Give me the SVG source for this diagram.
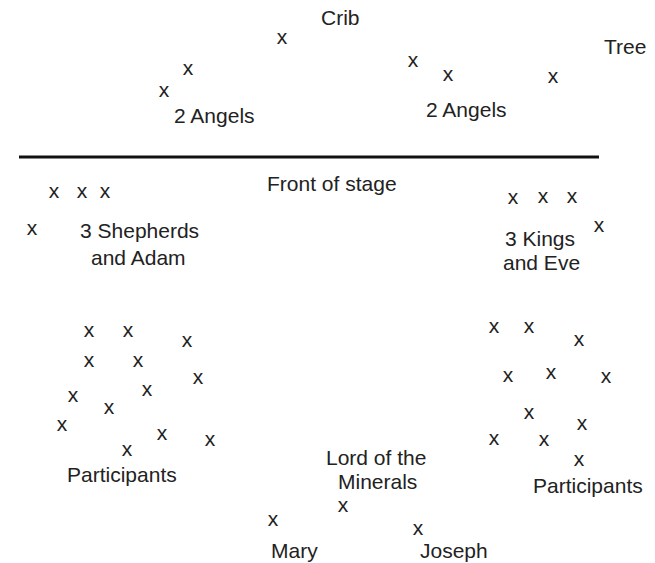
<svg xmlns="http://www.w3.org/2000/svg" width="655" height="563" viewBox="0 0 655 563">
<style>
text{font-family:"Liberation Sans",Arial,sans-serif;font-size:21px;fill:#222}
.m{text-anchor:middle}
</style>
<rect width="655" height="563" fill="#fff"/>
<line x1="19" y1="157" x2="599" y2="157" stroke="#111" stroke-width="3"/>
<g id="crib"><text x="321" y="25">Crib</text><text class="m" x="282" y="44">x</text></g>
<g id="tree"><text x="604" y="54">Tree</text></g>
<g id="angels-left"><text class="m" x="188" y="75">x</text><text class="m" x="164" y="97">x</text><text x="174" y="123">2 Angels</text></g>
<g id="angels-right"><text class="m" x="413" y="67">x</text><text class="m" x="448" y="81">x</text><text class="m" x="553" y="83">x</text><text x="426" y="117">2 Angels</text></g>
<g id="front"><text x="267" y="191">Front of stage</text></g>
<g id="shepherds"><text class="m" x="54" y="198">x</text><text class="m" x="82" y="198">x</text><text class="m" x="105" y="198">x</text><text class="m" x="32" y="235">x</text><text x="80" y="238">3 Shepherds</text><text x="91" y="265">and Adam</text></g>
<g id="kings"><text class="m" x="513" y="204">x</text><text class="m" x="543" y="203">x</text><text class="m" x="572" y="203">x</text><text class="m" x="599" y="232">x</text><text x="505" y="246">3 Kings</text><text x="503" y="270">and Eve</text></g>
<g id="participants-left">
<text class="m" x="89" y="337">x</text><text class="m" x="128" y="337">x</text><text class="m" x="187" y="347">x</text>
<text class="m" x="89" y="367">x</text><text class="m" x="138" y="367">x</text><text class="m" x="198" y="384">x</text>
<text class="m" x="73" y="402">x</text><text class="m" x="147" y="396">x</text><text class="m" x="109" y="414">x</text>
<text class="m" x="62" y="431">x</text><text class="m" x="162" y="440">x</text><text class="m" x="210" y="446">x</text>
<text class="m" x="127" y="456">x</text>
<text x="67" y="482">Participants</text></g>
<g id="participants-right">
<text class="m" x="494" y="333">x</text><text class="m" x="529" y="333">x</text><text class="m" x="579" y="346">x</text>
<text class="m" x="508" y="382">x</text><text class="m" x="551" y="379">x</text><text class="m" x="606" y="383">x</text>
<text class="m" x="529" y="419">x</text><text class="m" x="582" y="430">x</text>
<text class="m" x="494" y="445">x</text><text class="m" x="544" y="446">x</text><text class="m" x="579" y="466">x</text>
<text x="533" y="493">Participants</text></g>
<g id="lord"><text x="326" y="465">Lord of the</text><text x="338" y="489">Minerals</text><text class="m" x="343" y="512">x</text></g>
<g id="mary"><text class="m" x="273" y="526">x</text><text x="271" y="558">Mary</text></g>
<g id="joseph"><text class="m" x="418" y="535">x</text><text x="420" y="558">Joseph</text></g>
</svg>
